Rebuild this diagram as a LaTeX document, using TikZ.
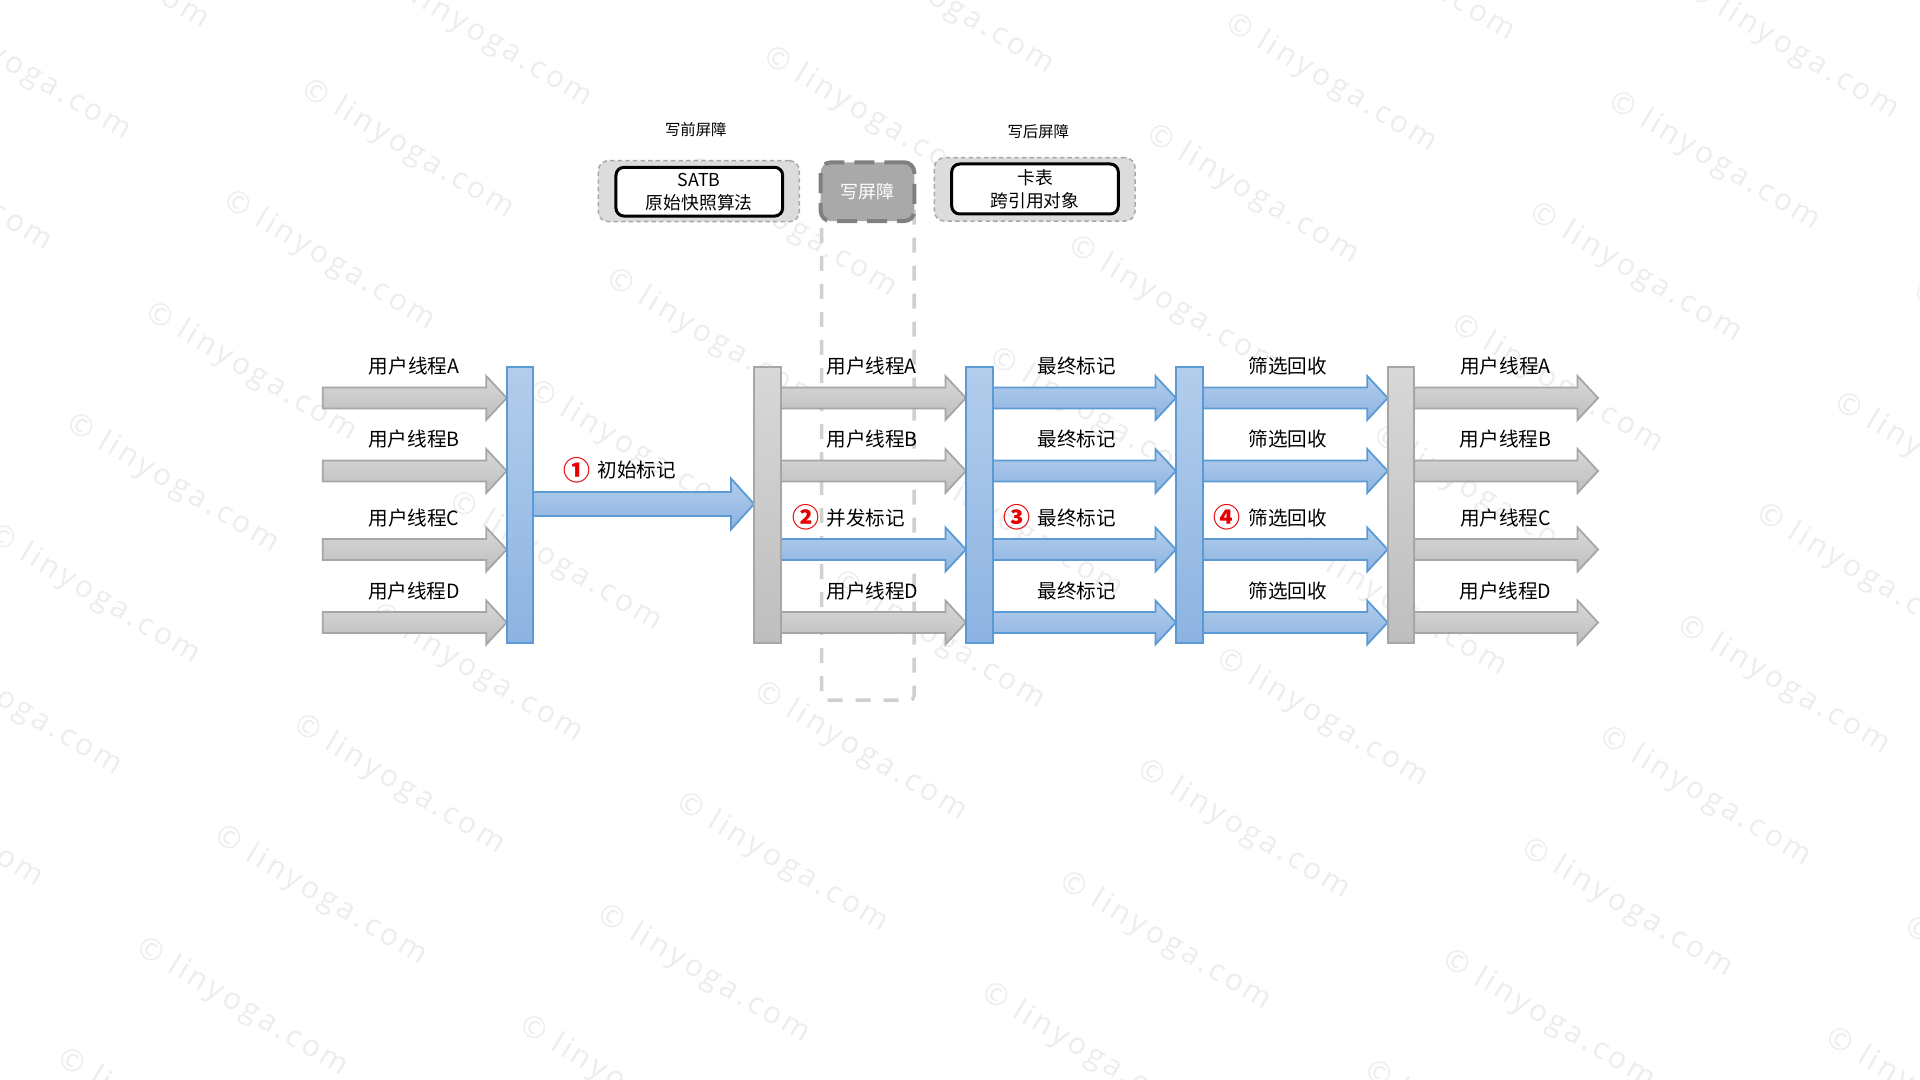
\documentclass[tikz,border=0pt]{standalone}
\usepackage{fontspec}
\setmainfont{Noto Sans CJK SC}
\newfontfamily\wmfont[LetterSpace=12]{Open Sans}
\usetikzlibrary{calc}
\pgfdeclarelayer{wm}
\pgfdeclarelayer{bg}
\pgfsetlayers{wm,bg,main}
\definecolor{gfillT}{HTML}{D8D8D8}
\definecolor{gfillB}{HTML}{BEBEBE}
\definecolor{gline}{HTML}{A6A6A6}
\definecolor{bfillT}{HTML}{B3CDEB}
\definecolor{bfillB}{HTML}{8DB3E1}
\definecolor{bline}{HTML}{5B9BD5}
\definecolor{wmcol}{HTML}{EDEDED}
\definecolor{lanecol}{HTML}{D0D0D0}
\definecolor{boxfill}{HTML}{DCDCDC}
\definecolor{boxline}{HTML}{A8A8A8}
\definecolor{wbfill}{HTML}{A9A9A9}
\definecolor{wbline}{HTML}{808080}
\definecolor{numred}{HTML}{E60000}
\newcommand\fatarrow[6]{\path[#1] let \p1=(#2), \p2=(#3) in
  (\x1,\y1+#4) -- (\x2-#6,\y1+#4) -- (\x2-#6,\y1+#5) -- (\x2,\y1)
  -- (\x2-#6,\y1-#5) -- (\x2-#6,\y1-#4) -- (\x1,\y1-#4) -- cycle;}
\tikzset{
  barbase/.style={minimum width=13.3pt, minimum height=138.3pt, inner sep=0pt, outer sep=0pt, line width=1pt},
  graybar/.style={barbase, draw=gline, top color=gfillT, bottom color=gfillB},
  bluebar/.style={barbase, draw=bline, top color=bfillT, bottom color=bfillB},
  grayarr/.style={draw=gline, line width=0.9pt, top color=gfillT, bottom color=gfillB},
  bluearr/.style={draw=bline, line width=0.9pt, top color=bfillT, bottom color=bfillB},
  lbl/.style={font=\fontsize{9.8pt}{11pt}\selectfont, inner sep=0pt},
  num/.style={font=\fontsize{13.5pt}{14pt}\selectfont\bfseries, text=numred, inner sep=0pt},
  toplbl/.style={font=\fontsize{7.7pt}{9pt}\selectfont, inner sep=0pt},
  outerbox/.style={draw=boxline, fill=boxfill, line width=0.75pt, dash pattern=on 2.2pt off 1.6pt, rounded corners=5pt, inner sep=0pt},
  innerbox/.style={draw=black, fill=white, line width=1.5pt, rounded corners=4pt, inner sep=0pt, align=center, font=\fontsize{8.9pt}{11.5pt}\selectfont},
  wbbox/.style={draw=wbline, fill=wbfill, line width=2pt, dash pattern=on 10pt off 5pt, rounded corners=5pt, inner sep=0pt, text=white, font=\fontsize{9pt}{10pt}\selectfont},
  lane/.style={draw=lanecol, line width=1.75pt, dash pattern=on 7.5pt off 6.5pt, rounded corners=2pt},
  wmark/.style={anchor=west, rotate=-31, text=wmcol, inner sep=0pt, font=\wmfont\fontsize{15pt}{15pt}\selectfont}
}
\begin{document}
\begin{tikzpicture}[x=0.5pt, y=-0.5pt]
\useasboundingbox (0,0) rectangle (1920,1080);
% watermark
\begin{pgfonlayer}{wm}
\fill[white] (0,0) rectangle (1920,1080);
\begin{scope}
\clip (0,0) rectangle (1920,1080);
\foreach \i in {-8,...,7}{\foreach \j in {-6,...,2}{
  \pgfmathsetmacro\wx{1773-78.4*\i+461.6*\j-14}
  \pgfmathsetmacro\wy{512+111.4*\i-33.1*\j}
  \node[wmark] (wm\i\j) at (\wx,\wy) {© linyoga.com};
}}
\end{scope}
\end{pgfonlayer}

% rows
\coordinate (rA) at (0,398);
\coordinate (rB) at (0,471);
\coordinate (rC) at (0,549.5);
\coordinate (rD) at (0,622.5);
\coordinate (rM) at (0,504);
\coordinate (inA) at (322.7,398);
\coordinate (inB) at (322.7,471);
\coordinate (inC) at (322.7,549.5);
\coordinate (inD) at (322.7,622.5);
\coordinate (outA) at (1598,398);
\coordinate (outB) at (1598,471);
\coordinate (outC) at (1598,549.5);
\coordinate (outD) at (1598,622.5);

% bars
\node[bluebar] (b1) at (520,505) {};
\node[graybar] (b2) at (767.3,505) {};
\node[bluebar] (b3) at (979.2,505) {};
\node[bluebar] (b4) at (1189.2,505) {};
\node[graybar] (b5) at (1401,505) {};

% top boxes
\node[toplbl] (t1) at (695.8,130) {写前屏障};
\node[toplbl] (t2) at (1038.3,131.7) {写后屏障};
\node[outerbox, minimum width=100.5pt, minimum height=30.5pt] (ob1) at (698.8,191.2) {};
\node[innerbox, minimum width=83.35pt, minimum height=24.35pt] (ib1) at (699.3,191.7) {SATB\\原始快照算法};
\node[outerbox, minimum width=100.35pt, minimum height=31.65pt] (ob2) at (1034.7,189.4) {};
\node[innerbox, minimum width=83.3pt, minimum height=25pt] (ib2) at (1035,189) {卡表\\跨引用对象};

\begin{pgfonlayer}{bg}
\draw[lane] (821.7,200) -- (821.7,700) -- (914,700) -- (914,200);
% left arrows
\fatarrow{grayarr}{inA}{b1.west |- rA}{5.25pt}{11pt}{10.25pt}
\fatarrow{grayarr}{inB}{b1.west |- rB}{5.25pt}{11pt}{10.25pt}
\fatarrow{grayarr}{inC}{b1.west |- rC}{5.25pt}{11pt}{10.25pt}
\fatarrow{grayarr}{inD}{b1.west |- rD}{5.25pt}{11pt}{10.25pt}
% initial mark
\fatarrow{bluearr}{b1.east |- rM}{b2.west |- rM}{6pt}{12.75pt}{11.5pt}
% concurrent
\fatarrow{grayarr}{b2.east |- rA}{b3.west |- rA}{5.25pt}{11pt}{10.25pt}
\fatarrow{grayarr}{b2.east |- rB}{b3.west |- rB}{5.25pt}{11pt}{10.25pt}
\fatarrow{bluearr}{b2.east |- rC}{b3.west |- rC}{5.25pt}{11pt}{10.25pt}
\fatarrow{grayarr}{b2.east |- rD}{b3.west |- rD}{5.25pt}{11pt}{10.25pt}
% final mark
\fatarrow{bluearr}{b3.east |- rA}{b4.west |- rA}{5.25pt}{11pt}{10.25pt}
\fatarrow{bluearr}{b3.east |- rB}{b4.west |- rB}{5.25pt}{11pt}{10.25pt}
\fatarrow{bluearr}{b3.east |- rC}{b4.west |- rC}{5.25pt}{11pt}{10.25pt}
\fatarrow{bluearr}{b3.east |- rD}{b4.west |- rD}{5.25pt}{11pt}{10.25pt}
% cleanup
\fatarrow{bluearr}{b4.east |- rA}{b5.west |- rA}{5.25pt}{11pt}{10.25pt}
\fatarrow{bluearr}{b4.east |- rB}{b5.west |- rB}{5.25pt}{11pt}{10.25pt}
\fatarrow{bluearr}{b4.east |- rC}{b5.west |- rC}{5.25pt}{11pt}{10.25pt}
\fatarrow{bluearr}{b4.east |- rD}{b5.west |- rD}{5.25pt}{11pt}{10.25pt}
% resume
\fatarrow{grayarr}{b5.east |- rA}{outA}{5.25pt}{11pt}{10.25pt}
\fatarrow{grayarr}{b5.east |- rB}{outB}{5.25pt}{11pt}{10.25pt}
\fatarrow{grayarr}{b5.east |- rC}{outC}{5.25pt}{11pt}{10.25pt}
\fatarrow{grayarr}{b5.east |- rD}{outD}{5.25pt}{11pt}{10.25pt}
\end{pgfonlayer}

\node[wbbox, minimum width=46.8pt, minimum height=29.35pt] (wb) at (867.5,191.7) {写屏障};

% labels left
\node[lbl] (lA) at (414,366.5) {用户线程A};
\node[lbl] (lB) at (414,439.5) {用户线程B};
\node[lbl] (lC) at (414,518) {用户线程C};
\node[lbl] (lD) at (414,591) {用户线程D};
% initial mark
\node[num] (n1) at (577,470) {①};
\node[lbl, anchor=west] (l1) at (597,470) {初始标记};
% concurrent section
\node[lbl, anchor=west] (mA) at (826,366.5) {用户线程A};
\node[lbl, anchor=west] (mB) at (826,439.5) {用户线程B};
\node[num] (n2) at (805.7,517.5) {②};
\node[lbl, anchor=west] (mC) at (826,518) {并发标记};
\node[lbl, anchor=west] (mD) at (826,591) {用户线程D};
% final mark
\node[lbl, anchor=west] (fA) at (1037.3,366.5) {最终标记};
\node[lbl, anchor=west] (fB) at (1037.3,439.5) {最终标记};
\node[num] (n3) at (1017.3,517.5) {③};
\node[lbl, anchor=west] (fC) at (1037.3,518) {最终标记};
\node[lbl, anchor=west] (fD) at (1037.3,591) {最终标记};
% cleanup
\node[lbl, anchor=west] (cA) at (1248.3,366.5) {筛选回收};
\node[lbl, anchor=west] (cB) at (1248.3,439.5) {筛选回收};
\node[num] (n4) at (1227.3,517.5) {④};
\node[lbl, anchor=west] (cC) at (1248.3,518) {筛选回收};
\node[lbl, anchor=west] (cD) at (1248.3,591) {筛选回收};
% right labels
\node[lbl] (rlA) at (1505.5,366.5) {用户线程A};
\node[lbl] (rlB) at (1505.5,439.5) {用户线程B};
\node[lbl] (rlC) at (1505.5,518) {用户线程C};
\node[lbl] (rlD) at (1505.5,591) {用户线程D};
\end{tikzpicture}
\end{document}
